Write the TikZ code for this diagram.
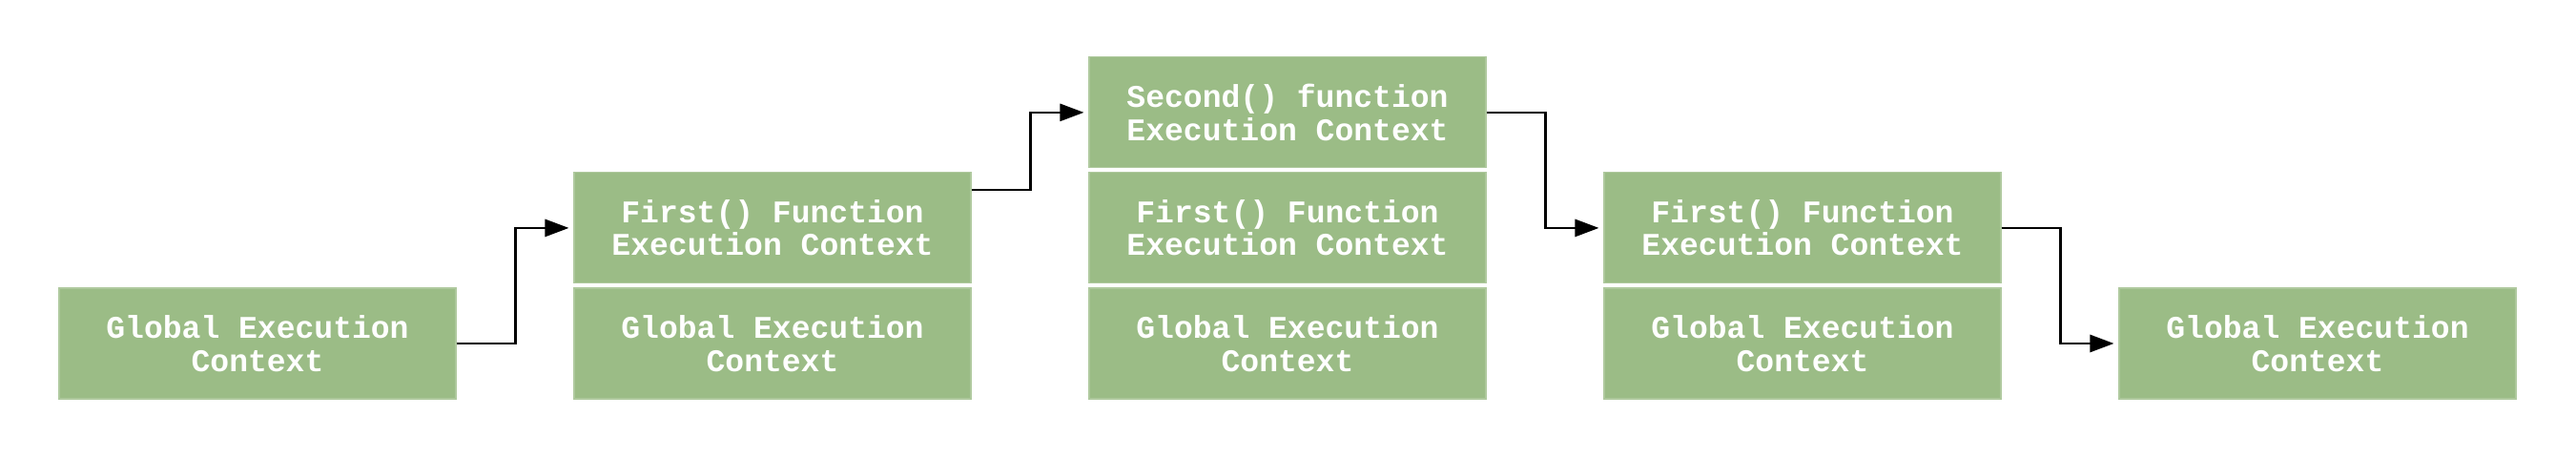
\documentclass[tikz,border=0pt]{standalone}
\usepackage{fontspec}
\setmonofont{Liberation Mono}
\usepackage{tikz}
\usetikzlibrary{arrows.meta,positioning}
\definecolor{ctxgreen}{RGB}{155,188,134}
\tikzset{
  ctx/.style  = {fill=ctxgreen, draw=ctxgreen!80!white, line width=0.3pt,
                 text=white, minimum width=4.16cm, minimum height=1.16cm,
                 inner sep=0pt, align=center,
                 font=\ttfamily\bfseries\fontsize{9.4}{9.8}\selectfont},
  flow/.style = {-{Triangle[length=2.5mm,width=1.8mm]}, line width=0.75pt,
                 shorten >=0.5mm},
}

\begin{document}
\begin{tikzpicture}
  \useasboundingbox (0,0) rectangle (27.01,4.8);
  % stage 1
  \node[ctx] (ga) at (2.70,1.2) {Global Execution\\Context};
  % stage 2
  \node[ctx] (gb) at (8.10,1.2) {Global Execution\\Context};
  \node[ctx, above=0.04cm of gb] (fb) {First() Function\\Execution Context};
  % stage 3
  \node[ctx] (gc) at (13.50,1.2) {Global Execution\\Context};
  \node[ctx, above=0.04cm of gc] (fc) {First() Function\\Execution Context};
  \node[ctx, above=0.04cm of fc] (sc) {Second() function\\Execution Context};
  % stage 4
  \node[ctx] (gd) at (18.90,1.2) {Global Execution\\Context};
  \node[ctx, above=0.04cm of gd] (fd) {First() Function\\Execution Context};
  % stage 5
  \node[ctx] (ge) at (24.30,1.2) {Global Execution\\Context};

  \draw[flow] (ga.east) -- ++(0.62,0) |- (fb.west);
  \draw[flow] ([yshift=0.4cm]fb.east) -- ++(0.62,0) |- (sc.west);
  \draw[flow] (sc.east) -- ++(0.62,0) |- (fd.west);
  \draw[flow] (fd.east) -- ++(0.62,0) |- (ge.west);
\end{tikzpicture}
\end{document}
